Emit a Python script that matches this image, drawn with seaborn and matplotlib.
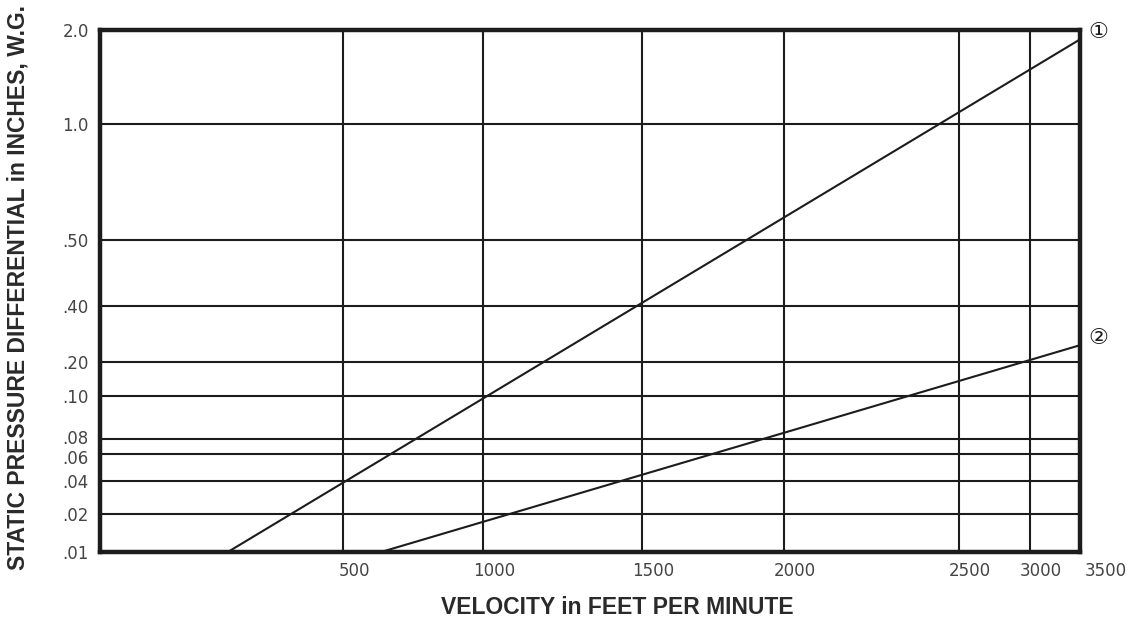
import numpy as np
import pandas as pd
import matplotlib
matplotlib.use("Agg")
import matplotlib.pyplot as plt
import matplotlib.transforms as mtransforms
from matplotlib.ticker import FixedLocator, FixedFormatter
import seaborn as sns

# ---- tick values / labels ----
x_ticks = [500, 1000, 1500, 2000, 2500, 3000, 3500]
x_tick_labels = ["500", "1000", "1500", "2000", "2500", "3000", "3500"]
y_ticks = [0.01, 0.02, 0.04, 0.06, 0.08, 0.10, 0.20, 0.40, 0.50, 1.0, 2.0]
y_tick_labels = [".01", ".02", ".04", ".06", ".08", ".10", ".20", ".40", ".50", "1.0", "2.0"]

# ---- the printed chart's (non-uniform) grid scale: value -> relative grid position ----
x_scale_values = [0, 500, 1000, 1500, 2000, 2500, 3000, 3500]
x_scale_pos = [0, 243, 383, 542, 684, 859, 930, 980]
y_scale_values = [0.01, 0.02, 0.04, 0.06, 0.08, 0.10, 0.20, 0.40, 0.50, 1.0, 2.0]
y_scale_pos = [0, 38, 71, 98, 113, 156, 190, 246, 312, 428, 522]

# ---- curves (velocity fpm, static pressure in. W.G.) ----
curve_names = ["1", "2"]
curve1_velocity = [263, 3500]
curve1_pressure = [0.01, 1.90]
curve2_velocity = [636, 3500]
curve2_pressure = [0.01, 0.26]

df = pd.DataFrame({
    "curve": ["1"] * len(curve1_velocity) + ["2"] * len(curve2_velocity),
    "velocity": curve1_velocity + curve2_velocity,
    "pressure": curve1_pressure + curve2_pressure,
})

sns.set_theme(style="white")
plt.rcParams["font.family"] = ["DejaVu Sans", "Noto Sans CJK JP"]

ink = "#1c1c1c"
fig = plt.figure(figsize=(11.34, 6.22), dpi=100)
ax = fig.add_axes([100 / 1134, 1 - 552 / 622, 980 / 1134, 522 / 622])

def xf(v):
    return np.interp(v, x_scale_values, x_scale_pos)

def xi(p):
    return np.interp(p, x_scale_pos, x_scale_values)

def yf(v):
    return np.interp(v, y_scale_values, y_scale_pos)

def yi(p):
    return np.interp(p, y_scale_pos, y_scale_values)

ax.set_xscale("function", functions=(xf, xi))
ax.set_yscale("function", functions=(yf, yi))

sns.lineplot(data=df, x="velocity", y="pressure", hue="curve",
             palette=[ink, ink], estimator=None, sort=False,
             linewidth=1.5, legend=False, ax=ax)

ax.set_xlim(0, 3500)
ax.set_ylim(0.01, 2.0)

ax.xaxis.set_major_locator(FixedLocator(x_ticks))
ax.xaxis.set_major_formatter(FixedFormatter(x_tick_labels))
ax.yaxis.set_major_locator(FixedLocator(y_ticks))
ax.yaxis.set_major_formatter(FixedFormatter(y_tick_labels))
ax.xaxis.set_minor_locator(FixedLocator([]))
ax.yaxis.set_minor_locator(FixedLocator([]))

ax.grid(True, which="major", color=ink, linewidth=1.5)
ax.tick_params(axis="both", length=0, labelsize=12, labelcolor="#444444")
ax.tick_params(axis="x", pad=7)
ax.tick_params(axis="y", pad=8)

# shift x tick labels slightly right like the print
for lab, txt in zip(ax.get_xticklabels(), x_tick_labels):
    dx = 26 if txt == "3500" else 11
    lab.set_transform(lab.get_transform() +
                      mtransforms.ScaledTranslation(dx / 100, 0, fig.dpi_scale_trans))
# the two crowded y labels are nudged apart, as in the print
for lab, txt in zip(ax.get_yticklabels(), y_tick_labels):
    dy = {".06": -3, ".08": 2}.get(txt, 0)
    if dy:
        lab.set_transform(lab.get_transform() +
                          mtransforms.ScaledTranslation(0, dy / 100, fig.dpi_scale_trans))

for sp in ax.spines.values():
    sp.set_visible(True)
    sp.set_color(ink)
    sp.set_linewidth(3.2)

ax.set_xlabel("VELOCITY in FEET PER MINUTE", fontsize=16.5, fontweight="bold",
              color="#2a2a2a", family=["Liberation Sans", "DejaVu Sans"])
ax.xaxis.set_label_coords((617 - 100) / 980, -44 / 522)
ax.set_ylabel("STATIC PRESSURE DIFFERENTIAL in INCHES, W.G.", fontsize=16.5,
              fontweight="bold", color="#2a2a2a",
              family=["Liberation Sans", "DejaVu Sans"])
ax.yaxis.set_label_coords(-70 / 980, 0.507)

# circled curve numbers at the right ends
for name, vx, vy in [("①", curve1_velocity[-1], curve1_pressure[-1]),
                     ("②", curve2_velocity[-1], curve2_pressure[-1])]:
    ax.annotate(name, xy=(vx, vy), xytext=(13, 5), textcoords="offset points",
                ha="center", va="center", fontsize=16, color=ink,
                family=["DejaVu Sans", "Noto Sans CJK JP"], annotation_clip=False)

fig.savefig("out.png", dpi=100, facecolor="white")
